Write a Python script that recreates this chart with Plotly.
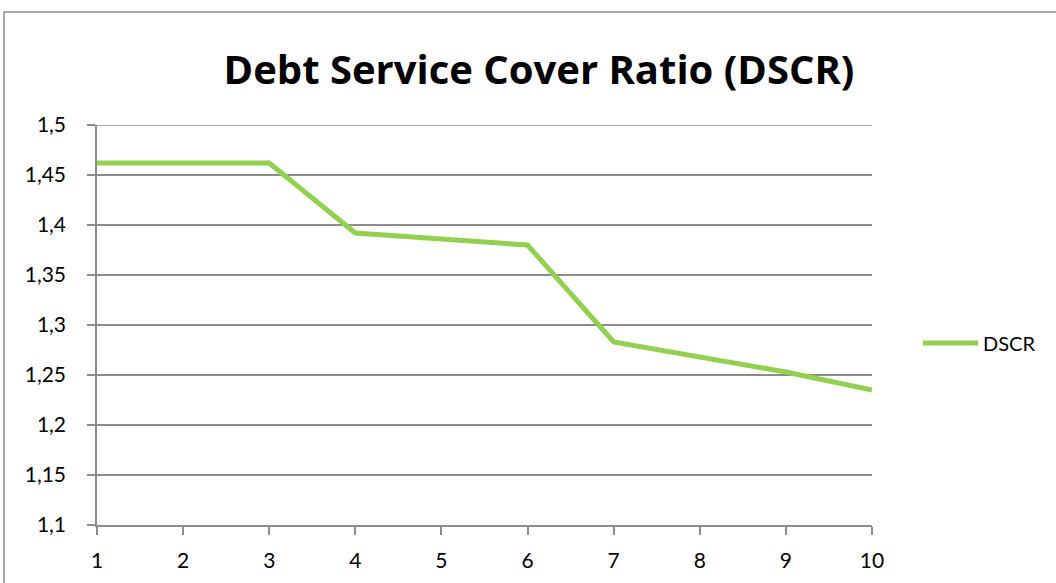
import plotly.graph_objects as go

periods = [1, 2, 3, 4, 5, 6, 7, 8, 9, 10]
dscr = [1.462, 1.462, 1.462, 1.392, 1.386, 1.380, 1.283, 1.268, 1.253, 1.235]
y_ticks = [1.1, 1.15, 1.2, 1.25, 1.3, 1.35, 1.4, 1.45, 1.5]
y_tick_labels = ["1,1", "1,15", "1,2", "1,25", "1,3", "1,35", "1,4", "1,45", "1,5"]

W, H = 1056, 583
L, R, T, B = 97, 872, 125, 525  # plot area pixels

def px(xp):
    return (xp - L) / (R - L)

def py(yp):
    return (B - yp) / (B - T)

fig = go.Figure()
fig.add_trace(go.Scatter(
    x=periods, y=dscr, mode="lines", name="DSCR",
    line=dict(color="#92D050", width=5),
))

grid = "#8c8c8c"
fig.update_layout(
    width=W, height=H,
    margin=dict(l=L, r=W - R, t=T, b=H - B, pad=0),
    paper_bgcolor="white", plot_bgcolor="white",
    font=dict(family="Lato, Open Sans, sans-serif", size=21, color="black"),
    title=dict(
        text="<b>Debt Service Cover Ratio (DSCR)</b>",
        font=dict(family="Open Sans, Lato, sans-serif", size=40, color="black"),
        x=539 / W, xanchor="center", y=1 - 70 / H, yanchor="middle",
    ),
    showlegend=True,
    legend=dict(
        x=px(918), y=py(343), xanchor="left", yanchor="middle",
        font=dict(size=20), bgcolor="rgba(0,0,0,0)", borderwidth=0,
        itemwidth=55,
    ),
    xaxis=dict(
        range=[1, 10], tickvals=periods, ticktext=[str(p) for p in periods],
        showgrid=False, zeroline=False, showline=True, linecolor=grid, linewidth=1.5,
        ticks="outside", ticklen=8, tickcolor=grid, tickwidth=1.5,
        tickfont=dict(size=21), ticklabelstandoff=8,
    ),
    yaxis=dict(
        range=[1.1, 1.5], tickvals=y_ticks, ticktext=y_tick_labels,
        showgrid=True, gridcolor=grid, gridwidth=1.5, zeroline=False,
        showline=True, linecolor=grid, linewidth=1.5,
        ticks="outside", ticklen=8, tickcolor=grid, tickwidth=1.5,
        tickfont=dict(size=21), ticklabelstandoff=17,
    ),
    shapes=[
        dict(
            type="rect", xref="paper", yref="paper",
            x0=px(4), x1=px(1060), y0=py(590), y1=py(12),
            line=dict(color="#8c8c8c", width=1.5), fillcolor="rgba(0,0,0,0)",
            layer="below",
        ),
        dict(
            type="line", xref="paper", yref="y",
            x0=0, x1=1, y0=y_ticks[-1], y1=y_ticks[-1],
            line=dict(color=grid, width=1.5), layer="below",
        ),
    ],
)

fig.write_html("out.html")
